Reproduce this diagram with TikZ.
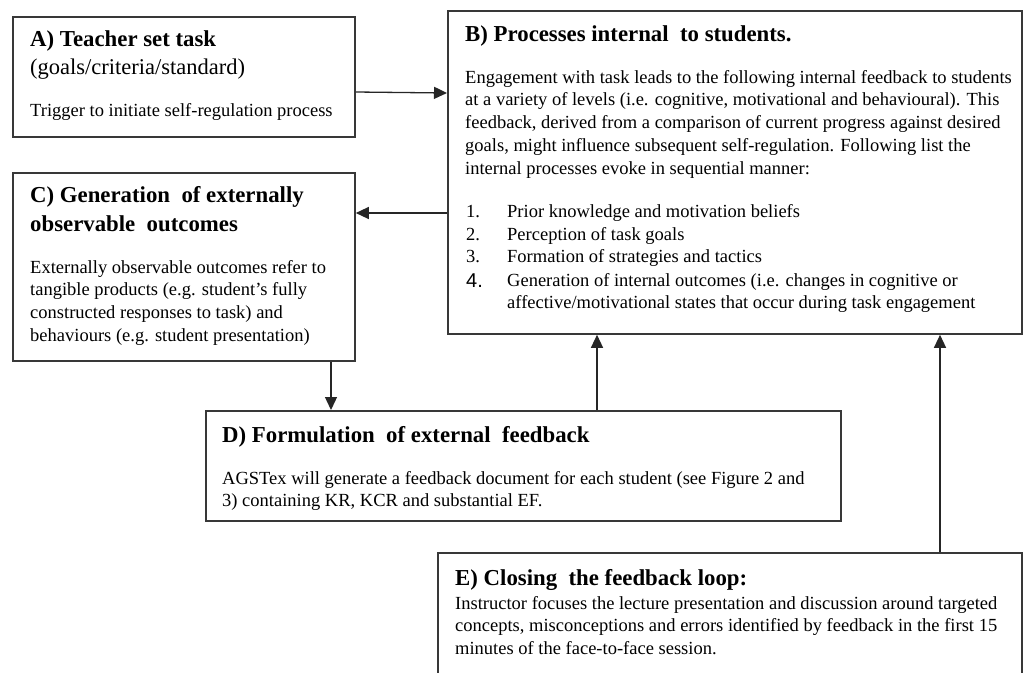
\documentclass[tikz,border=0pt]{standalone}
\usepackage{fontspec}
\setmainfont{Liberation Serif}
\newfontfamily\numfont{Liberation Sans}
\usetikzlibrary{arrows.meta}
\begin{document}
\begin{tikzpicture}[x=1pt,y=-1pt,
  box/.style={draw=black!78, line width=1.8pt, rectangle, inner sep=0pt, anchor=north west},
  ttl/.style={anchor=base west, inner sep=0pt, font=\fontsize{22.8}{29}\selectfont\bfseries, align=left},
  sub/.style={anchor=base west, inner sep=0pt, font=\fontsize{22.5}{28}\selectfont, align=left},
  body/.style={anchor=base west, inner sep=0pt, font=\fontsize{18.5}{22.8}\selectfont, align=left},
  arr/.style={line width=1.3pt, draw=black!85, -{Triangle[length=13pt,width=12pt]}}]
\clip (0,0) rectangle (1024,672);
% boxes
\node[box, minimum width=342pt, minimum height=120pt] (A) at (12,16) {};
\node[box, minimum width=574pt, minimum height=323pt] (B) at (447,10) {};
\node[box, minimum width=342pt, minimum height=188pt] (C) at (12,172) {};
\node[box, minimum width=635pt, minimum height=110pt] (D) at (205,410) {};
\node[box, minimum width=584pt, minimum height=140pt] (E) at (437,552) {};
% box A (multi-line nodes are placed by the baseline of their last line)
\node[ttl] (At) at (30,46) {A) Teacher set task};
\node[sub] (As) at (30,74) {(goals/criteria/standard)};
\node[body] (Ab) at (30,116) {Trigger to initiate self-regulation process};
% box B
\node[ttl] (Bt) at (465,41) {B) Processes internal\ \ to students.};
\node[body] (Bb) at (465,174.2) {Engagement with task leads to the following internal feedback to students\\
at a variety of levels (i.e. cognitive, motivational and behavioural). This\\
feedback, derived from a comparison of current progress against desired\\
goals, might influence subsequent self-regulation. Following list the\\
internal processes evoke in sequential manner:};
\node[body] (B1n) at (466,217) {1.};
\node[body] (B1) at (507,217) {Prior knowledge and motivation beliefs};
\node[body] (B2n) at (466,240) {2.};
\node[body] (B2) at (507,240) {Perception of task goals};
\node[body] (B3n) at (466,262) {3.};
\node[body] (B3) at (507,262) {Formation of strategies and tactics};
\node[body, font=\numfont\fontsize{20}{24}\selectfont] (B4n) at (466,287) {4.};
\node[body] (B4) at (507,308.8) {Generation of internal outcomes (i.e. changes in cognitive or\\
affective/motivational states that occur during task engagement};
% box C
\node[ttl] (Ct) at (30,231) {C) Generation\ \ of externally\\observable\ \ outcomes};
\node[body] (Cb) at (30,341.4) {Externally observable outcomes refer to\\
tangible products (e.g. student's fully\\
constructed responses to task) and\\
behaviours (e.g. student presentation)};
% box D
\node[ttl] (Dt) at (222,442) {D) Formulation\ \ of external\ \ feedback};
\node[body] (Db) at (222,506.8) {AGSTex will generate a feedback document for each student (see Figure 2 and\\
3) containing KR, KCR and substantial EF.};
% box E
\node[ttl] (Et) at (455,585) {E) Closing\ \ the feedback loop:};
\node[body] (Eb) at (455,654.6) {Instructor focuses the lecture presentation and discussion around targeted\\
concepts, misconceptions and errors identified by feedback in the first 15\\
minutes of the face-to-face session.};
% connectors
\draw[arr] (A.east |- 0,92) -- (B.west |- 0,93);
\draw[arr] (B.west |- 0,213) -- (C.east |- 0,213);
\draw[arr] (C.south -| 331,0) -- (D.north -| 331,0);
\draw[arr] (D.north -| 597,0) -- (B.south -| 597,0);
\draw[arr] (E.north -| 940,0) -- (B.south -| 940,0);
\end{tikzpicture}
\end{document}
